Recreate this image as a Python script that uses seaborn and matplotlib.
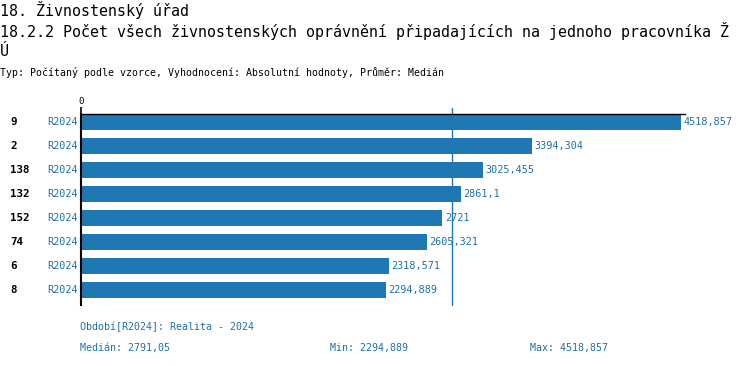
import numpy as np
import pandas as pd
import matplotlib
matplotlib.use("Agg")
import matplotlib.pyplot as plt
import matplotlib.transforms as mtransforms
import seaborn as sns

# data
ids = ["9", "2", "138", "132", "152", "74", "6", "8"]
periods = ["R2024"] * 8
values = [4518.857, 3394.304, 3025.455, 2861.1, 2721, 2605.321, 2318.571, 2294.889]
median_val = 2791.05
min_val = 2294.889
max_val = 4518.857

BLUE = "#1f77b4"
TXT_BLUE = "#1f6fae"
MONO = ["DejaVu Sans Mono"]


def fmt(v):
    return ("%.3f" % v).rstrip("0").rstrip(".").replace(".", ",")


df = pd.DataFrame({"id": ids, "period": periods, "value": values})

sns.set_style("white")
plt.rcParams["font.family"] = MONO
plt.rcParams["text.color"] = "black"

W, H = 750, 366
fig = plt.figure(figsize=(W / 100, H / 100), dpi=100)
ax = fig.add_axes([81 / W, 1 - 305 / H, 604 / W, 191 / H])

sns.barplot(data=df, x="value", y="id", orient="h", color=BLUE,
            width=0.667, saturation=1, ax=ax, order=ids, linewidth=0)

ax.set_xlim(0, 4550)
ax.set_ylim(7.625, -0.333)
ax.set_xlabel("")
ax.set_ylabel("")

# axes look: top line + left line only
for s in ["right", "bottom"]:
    ax.spines[s].set_visible(False)
ax.spines["top"].set_color("black")
ax.spines["top"].set_linewidth(1)
ax.spines["left"].set_color("black")
ax.spines["left"].set_linewidth(1.5)
ax.xaxis.tick_top()
ax.set_xticks([0])
ax.set_xticklabels(["0"], fontsize=6.5)
ax.tick_params(axis="x", direction="out", length=5, width=1.2, pad=1, colors="black")
ax.set_yticks([])

# median line
ax.axvline(median_val, ymin=0, ymax=1 + 6 / 191, clip_on=False, color=BLUE, lw=1)

# value labels
ax.bar_label(ax.containers[0], labels=[fmt(v) for v in values], padding=2,
             color=TXT_BLUE, fontsize=7.3, family=MONO)

# row labels
trans = mtransforms.blended_transform_factory(fig.transFigure, ax.transData)
for i, (k, p) in enumerate(zip(ids, periods)):
    ax.text(10 / W, i, k, transform=trans, ha="left", va="center",
            fontsize=7.8, fontweight="bold", color="black")
    ax.text(78 / W, i, p, transform=trans, ha="right", va="center",
            fontsize=7.3, color=TXT_BLUE)

# titles
fig.text(0, 1 - 10 / H, "18. Živnostenský úřad", fontsize=10.8, va="center", ha="left")
fig.text(0, 1 - 31 / H,
         "18.2.2 Počet všech živnostenských oprávnění připadajících na jednoho pracovníka Ž",
         fontsize=10.8, va="center", ha="left")
fig.text(0, 1 - 51 / H, "Ú", fontsize=10.8, va="center", ha="left")
fig.text(0, 1 - 73 / H,
         "Typ: Počítaný podle vzorce, Vyhodnocení: Absolutní hodnoty, Průměr: Medián",
         fontsize=7.1, va="center", ha="left")

# footer
fig.text(80 / W, 1 - 327 / H, "Období[R2024]: Realita - 2024", fontsize=7.2,
         color=TXT_BLUE, va="center")
fig.text(80 / W, 1 - 348 / H, "Medián: " + fmt(median_val), fontsize=7.2,
         color=TXT_BLUE, va="center")
fig.text(330 / W, 1 - 348 / H, "Min: " + fmt(min_val), fontsize=7.2,
         color=TXT_BLUE, va="center")
fig.text(530 / W, 1 - 348 / H, "Max: " + fmt(max_val), fontsize=7.2,
         color=TXT_BLUE, va="center")

fig.savefig("out.png", dpi=100)
